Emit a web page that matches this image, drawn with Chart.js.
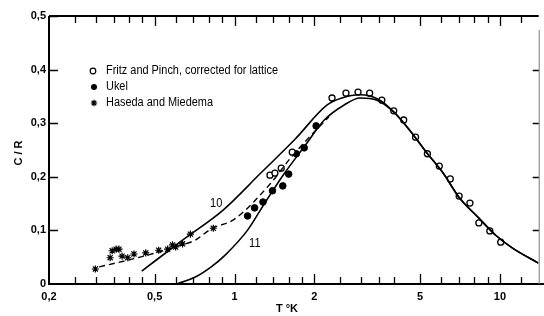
<!DOCTYPE html>
<html><head><meta charset="utf-8">
<script src="https://cdn.jsdelivr.net/npm/chart.js@4/dist/chart.umd.min.js"></script>
<style>html,body{margin:0;padding:0;background:#fff}canvas{display:block}</style>
</head><body>
<canvas id="c" width="544" height="316"></canvas>
<script>
// ---- data ----
const fritzT = [1.36,1.42,1.50,1.65,2.33,2.63,2.92,3.23,3.59,3.98,4.34,4.81,5.33,5.91,6.50,7.02,7.71,8.33,9.16,10.07];
const fritzC = [0.203,0.207,0.216,0.246,0.347,0.356,0.358,0.356,0.343,0.323,0.306,0.274,0.243,0.220,0.196,0.164,0.151,0.114,0.099,0.078];
const ukelT = [1.12,1.19,1.28,1.39,1.52,1.60,1.71,1.83,2.03];
const ukelC = [0.127,0.142,0.153,0.174,0.183,0.205,0.243,0.254,0.295];
const hasedaT = [0.299,0.340,0.346,0.358,0.367,0.377,0.396,0.418,0.463,0.518,0.560,0.584,0.600,0.637,0.682,0.832];
const hasedaC = [0.028,0.049,0.062,0.065,0.065,0.052,0.049,0.056,0.058,0.063,0.065,0.073,0.069,0.075,0.093,0.104];
const curve10T = [0.447,0.637,0.906,1.256,1.683,2.234,2.54,2.97,3.53,3.98,4.57,5.28,6.11,7.01,8.33,9.64,11.16,13.96];
const curve10C = [0.024,0.082,0.138,0.207,0.269,0.334,0.347,0.353,0.343,0.321,0.287,0.246,0.207,0.162,0.123,0.091,0.067,0.039];
const curve11T = [0.605,0.712,0.817,0.922,1.122,1.30,1.545,1.83,2.18,2.59,2.97,3.44,3.98,4.57,5.28,6.11,7.01,8.33,9.64,11.16,13.96];
const curve11C = [0.0,0.013,0.032,0.054,0.101,0.151,0.207,0.256,0.306,0.334,0.347,0.343,0.321,0.287,0.246,0.207,0.162,0.123,0.091,0.067,0.039];
const dashedT = [0.309,0.400,0.505,0.615,0.712,0.817,1.0,1.369,1.626,1.913,2.27];
const dashedC = [0.032,0.045,0.058,0.071,0.082,0.103,0.121,0.188,0.235,0.274,0.312];
const xTickValues = [0.2,0.25,0.3,0.35,0.4,0.45,0.5,0.6,0.7,0.8,0.9,1,1.2,1.4,1.6,1.8,2,2.5,3,3.5,4,5,6,7,8,9,10,12];
const xTickLabels = [0.2,0.5,1,2,5,10];
const yTickValues = [0,0.1,0.2,0.3,0.4,0.5];
const legendLabels = ["Fritz and Pinch, corrected for lattice","Ukel","Haseda and Miedema"];
const curveLabels = [{text:"10",x:0.853,y:0.151},{text:"11",x:1.193,y:0.075}];

const pts = (xs, ys) => xs.map((x,i)=>({x:x,y:ys[i]}));
const FONT = "'Liberation Sans', Arial, sans-serif";

const framePlugin = {
  id:'frame',
  afterDraw(chart){
    const ctx = chart.ctx, a = chart.chartArea, xs = chart.scales.x, ys = chart.scales.y;
    ctx.save();
    ctx.strokeStyle = '#000';
    // frame
    ctx.lineWidth = 2;
    ctx.beginPath();
    ctx.moveTo(a.left, a.top); ctx.lineTo(a.left, a.bottom); ctx.lineTo(544, a.bottom);
    ctx.moveTo(a.left, a.top); ctx.lineTo(a.right, a.top);
    ctx.stroke();
    ctx.lineWidth = 1; ctx.strokeStyle = '#777';
    ctx.beginPath(); ctx.moveTo(a.right+0.5, a.top+14); ctx.lineTo(a.right+0.5, a.bottom); ctx.stroke();
    // x ticks (bottom and top, inward)
    ctx.strokeStyle = '#000'; ctx.lineWidth = 1.3;
    ctx.beginPath();
    xTickValues.forEach(v=>{
      if (v === 0.2) return;
      const px = Math.round(xs.getPixelForValue(v)) + 0.5;
      const major = xTickLabels.includes(v);
      const len = major ? 10 : 7;
      ctx.moveTo(px, a.bottom); ctx.lineTo(px, a.bottom - len);
      ctx.moveTo(px, a.top); ctx.lineTo(px, a.top + len);
    });
    // y ticks (left and right, inward)
    yTickValues.forEach(v=>{
      if (v === 0) return;
      const py = Math.round(ys.getPixelForValue(v)) + 0.5;
      ctx.moveTo(a.left, py); ctx.lineTo(a.left + 9, py);
      if (v < 0.5) { ctx.moveTo(a.right, py); ctx.lineTo(a.right - 6, py); }
    });
    ctx.stroke();
    // axis titles
    ctx.fillStyle = '#000';
    ctx.font = "bold 11px " + FONT;
    ctx.textAlign = 'center'; ctx.textBaseline = 'middle';
    ctx.fillText("T °K", 287, 309);
    ctx.save(); ctx.translate(19, 153); ctx.rotate(-Math.PI/2); ctx.fillText("C / R", 0, 0); ctx.restore();
    // curve labels
    ctx.font = "13px " + FONT;
    curveLabels.forEach(l=>{
      ctx.save();
      ctx.translate(xs.getPixelForValue(l.x), ys.getPixelForValue(l.y));
      ctx.scale(0.85,1);
      ctx.fillText(l.text, 0, 0);
      ctx.restore();
    });
    // legend
    const lx = 93, lyy = [71, 87, 103];
    ctx.lineWidth = 1.2;
    ctx.beginPath(); ctx.arc(lx, lyy[0], 2.8, 0, Math.PI*2); ctx.stroke();
    ctx.beginPath(); ctx.arc(lx+1, lyy[1], 3, 0, Math.PI*2); ctx.fill();
    ctx.beginPath();
    const ax = lx+1, ay = lyy[2], r = 3.2;
    for (let k=0;k<4;k++){ const t = k*Math.PI/4; ctx.moveTo(ax - r*Math.cos(t), ay - r*Math.sin(t)); ctx.lineTo(ax + r*Math.cos(t), ay + r*Math.sin(t)); }
    ctx.stroke();
    ctx.font = "12.5px " + FONT;
    ctx.textAlign = 'left';
    const w = ctx.measureText(legendLabels[0]).width;
    const sx = 172 / w;
    legendLabels.forEach((t,i)=>{
      ctx.save(); ctx.translate(106, lyy[i]); ctx.scale(sx, 1); ctx.fillText(t, 0, 0); ctx.restore();
    });
    ctx.restore();
  }
};

new Chart(document.getElementById('c'), {
  type: 'line',
  data: {
    datasets: [
      { label:'10', data: pts(curve10T, curve10C), borderColor:'#000', borderWidth:1.6, pointRadius:0, cubicInterpolationMode:'monotone', fill:false },
      { label:'11', data: pts(curve11T, curve11C), borderColor:'#000', borderWidth:1.6, pointRadius:0, cubicInterpolationMode:'monotone', fill:false },
      { label:'dashed', data: pts(dashedT, dashedC), borderColor:'#000', borderWidth:1.4, borderDash:[6,4], pointRadius:0, cubicInterpolationMode:'monotone', fill:false },
      { label:legendLabels[0], data: pts(fritzT, fritzC), showLine:false, pointStyle:'circle', pointRadius:3, borderColor:'#000', backgroundColor:'#fff', pointBorderWidth:1.3 },
      { label:legendLabels[1], data: pts(ukelT, ukelC), showLine:false, pointStyle:'circle', pointRadius:3.3, borderColor:'#000', backgroundColor:'#000', pointBorderWidth:1 },
      { label:legendLabels[2], data: pts(hasedaT, hasedaC), showLine:false, pointStyle:'star', pointRadius:3.6, borderColor:'#000', backgroundColor:'#000', pointBorderWidth:1.2 }
    ]
  },
  options: {
    responsive:false, animation:false, devicePixelRatio:1,
    layout:{ padding:{ top:16, right:1, left:0, bottom:0 } },
    plugins:{ legend:{display:false}, tooltip:{enabled:false} },
    scales:{
      x:{
        type:'logarithmic', min:0.2, max:14,
        afterBuildTicks(s){ s.ticks = xTickValues.map(v=>({value:v})); },
        afterFit(s){ s.height = 32; },
        grid:{display:false, drawTicks:false}, border:{display:false},
        ticks:{ autoSkip:false, maxRotation:0, padding:6, color:'#000', font:{family:FONT, size:11, weight:'bold'},
          callback(v){ return xTickLabels.includes(v) ? String(v).replace('.',',') : ''; } }
      },
      y:{
        min:0, max:0.5,
        afterBuildTicks(s){ s.ticks = yTickValues.map(v=>({value:v})); },
        afterFit(s){ s.width = 49; },
        grid:{display:false, drawTicks:false}, border:{display:false},
        ticks:{ padding:3, color:'#000', font:{family:FONT, size:11, weight:'bold'},
          callback(v){ return v === 0 ? '0' : v.toFixed(1).replace('.',','); } }
      }
    }
  },
  plugins:[framePlugin]
});
</script>
</body></html>
